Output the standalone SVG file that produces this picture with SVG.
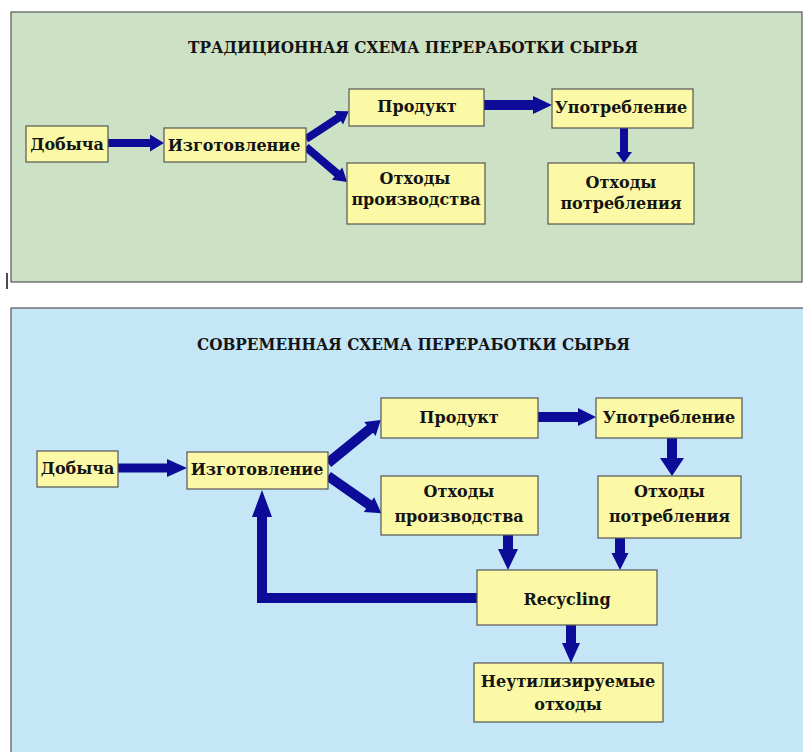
<svg xmlns="http://www.w3.org/2000/svg" width="803" height="752" viewBox="0 0 803 752">
<style>
.bg{fill:#ffffff}
.panel{stroke:#555;stroke-width:1.2}
.g{fill:#cde2c5}
.b{fill:#c5e6f7}
.node rect{fill:#fbf9a6;stroke:#555;stroke-width:1.2}
text{font-family:"DejaVu Serif","Liberation Serif",serif;font-weight:bold;fill:#141414;text-anchor:middle}
.t{font-size:16px}
.n{font-size:16px}
.arr polygon{fill:#0c0c98}
</style>
<rect class="bg" x="0" y="0" width="803" height="752"/>
<rect class="panel g" x="11" y="12" width="791" height="270"/>
<line x1="7" y1="273" x2="7" y2="289" stroke="#111" stroke-width="1.5"/>
<rect class="panel b" x="11" y="308" width="800" height="460"/>
<text class="t" x="413" y="53" textLength="450" lengthAdjust="spacingAndGlyphs">ТРАДИЦИОННАЯ СХЕМА ПЕРЕРАБОТКИ СЫРЬЯ</text>
<text class="t" x="413.5" y="350" textLength="433" lengthAdjust="spacingAndGlyphs">СОВРЕМЕННАЯ СХЕМА ПЕРЕРАБОТКИ СЫРЬЯ</text>
<g id="connectors" class="arr">
<polygon points="108,139 150,139 150,134.5 164,143 150,151.5 150,147 108,147"/>
<polygon transform="translate(306,139) rotate(-33.1)" points="0,-4 39,-4 39,-8 51,0 39,8 39,4 0,4"/>
<polygon transform="translate(306,147) rotate(40.5)" points="0,-4 41,-4 41,-8 54,0 41,8 41,4 0,4"/>
<polygon points="484,100 533,100 533,96 552,105 533,114 533,110 484,110"/>
<polygon points="620,128 628,128 628,152 632,152 624,163 616,152 620,152"/>
<polygon points="118,463.5 167,463.5 167,459 187,468 167,477 167,472.5 118,472.5"/>
<polygon transform="translate(328,463) rotate(-39.1)" points="0,-5 54,-5 54,-9 68,0 54,9 54,5 0,5"/>
<polygon transform="translate(328,476) rotate(34.9)" points="0,-5 50,-5 50,-9 65,0 50,9 50,5 0,5"/>
<polygon points="538,412 578,412 578,408 596,417 578,426 578,422 538,422"/>
<polygon points="667,438 677,438 677,458 684,458 672,476 660,458 667,458"/>
<polygon points="503,535 513,535 513,549 518,549 508,570 498,549 503,549"/>
<polygon points="615,538 625,538 625,553 628.5,553 620,570 611.5,553 615,553"/>
<polygon points="566,625 576,625 576,643 580,643 571,663 562,643 566,643"/>
<polygon points="477,593 267,593 267,517 272,517 262,490 252,517 257,517 257,603 477,603"/>
</g>
<g id="t-dobycha" class="node"><rect x="26" y="126" width="82" height="36"/><text class="n" x="67" y="150">Добыча</text></g>
<g id="t-izgotovlenie" class="node"><rect x="164" y="128" width="142" height="34"/><text class="n" x="234" y="151">Изготовление</text></g>
<g id="t-produkt" class="node"><rect x="349" y="89" width="135" height="37"/><text class="n" x="417" y="112">Продукт</text></g>
<g id="t-othody-proizv" class="node"><rect x="347" y="163" width="138" height="61"/><text class="n" x="415" y="184">Отходы</text><text class="n" x="416" y="205">производства</text></g>
<g id="t-upotreblenie" class="node"><rect x="552" y="89" width="141" height="39"/><text class="n" x="621" y="113">Употребление</text></g>
<g id="t-othody-potr" class="node"><rect x="548" y="163" width="146" height="61"/><text class="n" x="621" y="188">Отходы</text><text class="n" x="621" y="209">потребления</text></g>
<g id="m-dobycha" class="node"><rect x="37" y="451" width="81" height="36"/><text class="n" x="77.5" y="474">Добыча</text></g>
<g id="m-izgotovlenie" class="node"><rect x="187" y="452" width="141" height="37"/><text class="n" x="257" y="475">Изготовление</text></g>
<g id="m-produkt" class="node"><rect x="381" y="398" width="157" height="40"/><text class="n" x="459" y="423">Продукт</text></g>
<g id="m-othody-proizv" class="node"><rect x="381" y="476" width="157" height="59"/><text class="n" x="459" y="497">Отходы</text><text class="n" x="459" y="522">производства</text></g>
<g id="m-upotreblenie" class="node"><rect x="596" y="398" width="146" height="40"/><text class="n" x="669" y="423">Употребление</text></g>
<g id="m-othody-potr" class="node"><rect x="598" y="476" width="143" height="62"/><text class="n" x="669.5" y="497">Отходы</text><text class="n" x="669.5" y="522">потребления</text></g>
<g id="m-recycling" class="node"><rect x="477" y="570" width="180" height="55"/><text class="n" x="567" y="605">Recycling</text></g>
<g id="m-neutil" class="node"><rect x="474" y="663" width="189" height="59"/><text class="n" x="568" y="687">Неутилизируемые</text><text class="n" x="568" y="710">отходы</text></g>
</svg>
